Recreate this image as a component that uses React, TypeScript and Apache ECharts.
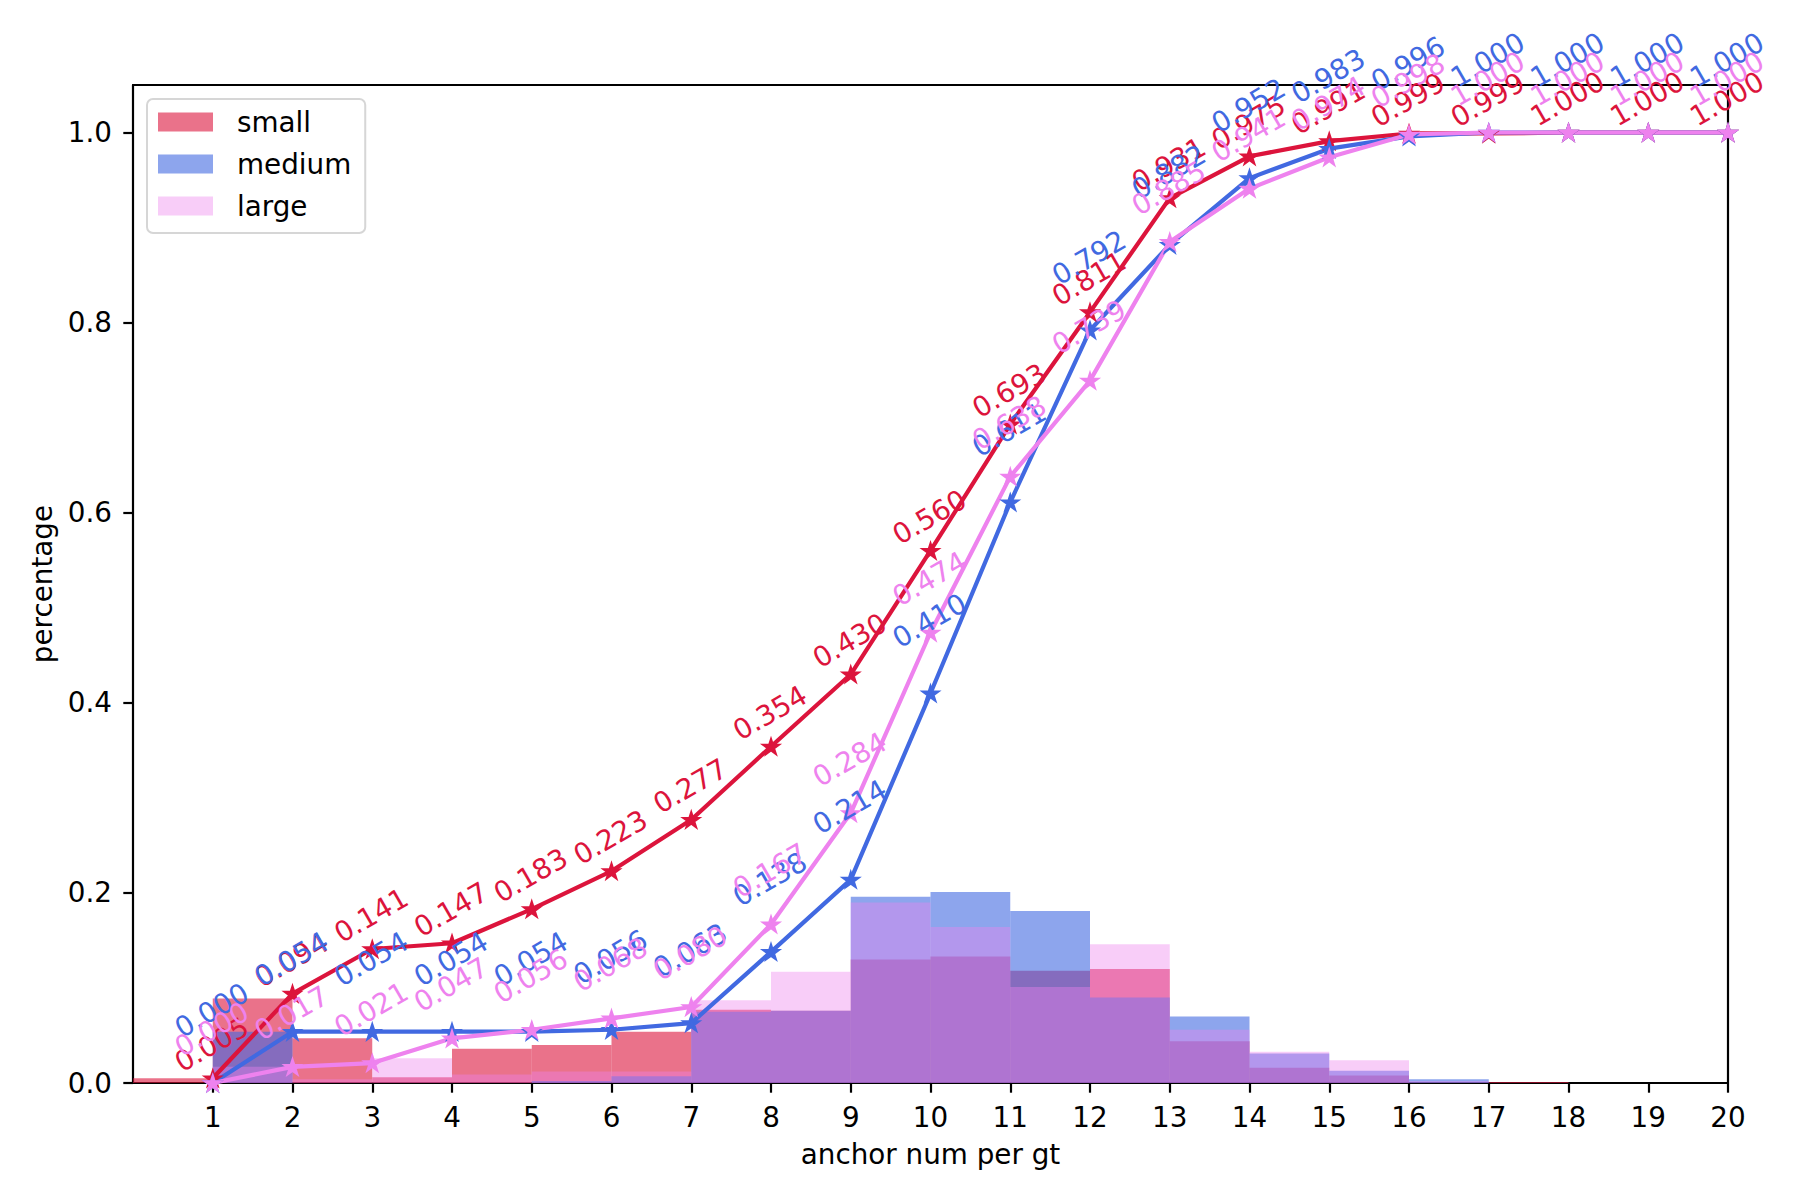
import React, { useEffect, useRef } from "react";
import * as echarts from "echarts";

// ---- data ----
const binEdges = [0, 1, 2, 3, 4, 5, 6, 7, 8, 9, 10, 11, 12, 13, 14, 15, 16, 17, 18, 19, 20];
const smallHist = [0.005, 0.089, 0.047, 0.006, 0.036, 0.040, 0.054, 0.077, 0.076, 0.130, 0.133, 0.118, 0.120, 0.044, 0.016, 0.008, 0.000, 0.001, 0.000, 0.000];
const mediumHist = [0.000, 0.054, 0.000, 0.000, 0.000, 0.002, 0.007, 0.075, 0.076, 0.196, 0.201, 0.181, 0.090, 0.070, 0.031, 0.013, 0.004, 0.000, 0.000, 0.000];
const largeHist = [0.000, 0.017, 0.004, 0.026, 0.009, 0.012, 0.012, 0.087, 0.117, 0.190, 0.164, 0.101, 0.146, 0.056, 0.033, 0.024, 0.002, 0.000, 0.000, 0.000];

const cumX = [1, 2, 3, 4, 5, 6, 7, 8, 9, 10, 11, 12, 13, 14, 15, 16, 17, 18, 19, 20];
const smallCum = [0.005, 0.094, 0.141, 0.147, 0.183, 0.223, 0.277, 0.354, 0.430, 0.560, 0.693, 0.811, 0.931, 0.975, 0.991, 0.999, 0.999, 1.000, 1.000, 1.000];
const mediumCum = [0.000, 0.054, 0.054, 0.054, 0.054, 0.056, 0.063, 0.138, 0.214, 0.410, 0.611, 0.792, 0.882, 0.952, 0.983, 0.996, 1.000, 1.000, 1.000, 1.000];
const largeCum = [0.000, 0.017, 0.021, 0.047, 0.056, 0.068, 0.080, 0.167, 0.284, 0.474, 0.638, 0.739, 0.885, 0.941, 0.974, 0.998, 1.000, 1.000, 1.000, 1.000];

const xTicks = [1, 2, 3, 4, 5, 6, 7, 8, 9, 10, 11, 12, 13, 14, 15, 16, 17, 18, 19, 20];
const yTicks = [0, 0.2, 0.4, 0.6, 0.8, 1.0];

const seriesNames = ["small", "medium", "large"];
const lineColors = ["#DC143C", "#4169E1", "#EE82EE"];
const histColors = ["rgba(220,20,60,0.6)", "rgba(65,105,225,0.6)", "rgba(238,130,238,0.4)"];

const FONT = "DejaVu Sans";
const FS = 27.8;
const STAR =
  "path://M0,-1 L0.2245,-0.309 L0.951,-0.309 L0.363,0.118 L0.588,0.809 L0,0.382 L-0.588,0.809 L-0.363,0.118 L-0.951,-0.309 L-0.2245,-0.309 Z";

function histSeries(name: string, hist: number[], color: string) {
  return {
    type: "custom",
    name,
    z: 2,
    itemStyle: { color },
    encode: { x: [0, 1], y: 2 },
    data: hist.map((h, i) => [binEdges[i], binEdges[i + 1], h]),
    renderItem: (params: any, api: any) => {
      const x0 = api.value(0);
      const x1 = api.value(1);
      const h = api.value(2);
      const p0 = api.coord([x0, 0]);
      const p1 = api.coord([x1, h]);
      return {
        type: "rect",
        shape: { x: p0[0], y: p1[1], width: p1[0] - p0[0], height: p0[1] - p1[1] },
        style: { fill: color, stroke: null },
      };
    },
  };
}

function cumSeries(name: string, vals: number[], color: string, labelLift: number) {
  const sym = 16;
  return {
    type: "line",
    name,
    z: 3,
    clip: false,
    data: cumX.map((x, i) => [x, vals[i]]),
    lineStyle: { color, width: 4.2 },
    symbol: STAR,
    symbolSize: sym,
    symbolKeepAspect: true,
    itemStyle: { color, borderColor: color, borderWidth: 2 },
    label: {
      show: true,
      position: [sym / 2, sym / 2 - labelLift],
      align: "center",
      verticalAlign: "middle",
      rotate: 30,
      color,
      fontFamily: FONT,
      fontSize: FS,
      formatter: (p: any) => Number(p.value[1]).toFixed(3),
    },
    emphasis: { disabled: true },
  };
}

export default function App() {
  const ref = useRef<HTMLDivElement>(null);
  useEffect(() => {
    if (!ref.current) return;
    const chart = echarts.init(ref.current, null, { renderer: "svg" });
    const axisLineStyle = { color: "#000", width: 2.2 };
    const labelStyle = { color: "#000", fontFamily: FONT, fontSize: FS };
    chart.setOption({
      animation: false,
      backgroundColor: "#fff",
      textStyle: { fontFamily: FONT },
      grid: { left: 133, top: 85, width: 1595, height: 998, show: false },
      legend: {
        data: seriesNames,
        orient: "vertical",
        left: 147,
        top: 99,
        icon: "rect",
        itemWidth: 55,
        itemHeight: 19,
        itemGap: 14,
        padding: [9, 14, 13, 11],
        backgroundColor: "rgba(255,255,255,0.8)",
        borderColor: "#d6d6d6",
        borderWidth: 2,
        borderRadius: 6,
        selectedMode: false,
        textStyle: { color: "#000", fontFamily: FONT, fontSize: FS, lineHeight: 28, padding: [0, 0, 0, 19] },
      },
      xAxis: [
        {
          type: "value",
          min: 0,
          max: 20,
          interval: 1,
          splitLine: { show: false },
          axisLine: { show: true, onZero: false, lineStyle: axisLineStyle },
          axisTick: { show: true, length: 9.7, lineStyle: axisLineStyle, customValues: xTicks },
          axisLabel: { show: true, margin: 20, customValues: xTicks, ...labelStyle },
          name: "anchor num per gt",
          nameLocation: "middle",
          nameGap: 57,
          nameTextStyle: labelStyle,
        },
        {
          type: "value",
          position: "top",
          min: 0,
          max: 20,
          interval: 1,
          splitLine: { show: false },
          axisLine: { show: true, onZero: false, lineStyle: axisLineStyle },
          axisTick: { show: false },
          axisLabel: { show: false },
        },
      ],
      yAxis: [
        {
          type: "value",
          min: 0,
          max: 1.05,
          interval: 0.2,
          splitLine: { show: false },
          axisLine: { show: true, onZero: false, lineStyle: axisLineStyle },
          axisTick: { show: true, length: 9.7, lineStyle: axisLineStyle, customValues: yTicks },
          axisLabel: {
            show: true,
            margin: 21,
            customValues: yTicks,
            formatter: (v: number) => v.toFixed(1),
            ...labelStyle,
          },
          name: "percentage",
          nameLocation: "middle",
          nameRotate: 90,
          nameGap: 68,
          nameTextStyle: labelStyle,
        },
        {
          type: "value",
          position: "right",
          min: 0,
          max: 1.05,
          interval: 0.2,
          splitLine: { show: false },
          axisLine: { show: true, onZero: false, lineStyle: axisLineStyle },
          axisTick: { show: false },
          axisLabel: { show: false },
        },
      ],
      series: [
        histSeries(seriesNames[0], smallHist, histColors[0]),
        histSeries(seriesNames[1], mediumHist, histColors[1]),
        histSeries(seriesNames[2], largeHist, histColors[2]),
        cumSeries("small cumulative", smallCum, lineColors[0], 33),
        cumSeries("medium cumulative", mediumCum, lineColors[1], 72),
        cumSeries("large cumulative", largeCum, lineColors[2], 53),
      ],
    });
    return () => chart.dispose();
  }, []);
  return (
    <div
      ref={ref}
      style={{ position: "absolute", left: 0, top: 0, width: 1800, height: 1200, background: "#fff" }}
    />
  );
}
